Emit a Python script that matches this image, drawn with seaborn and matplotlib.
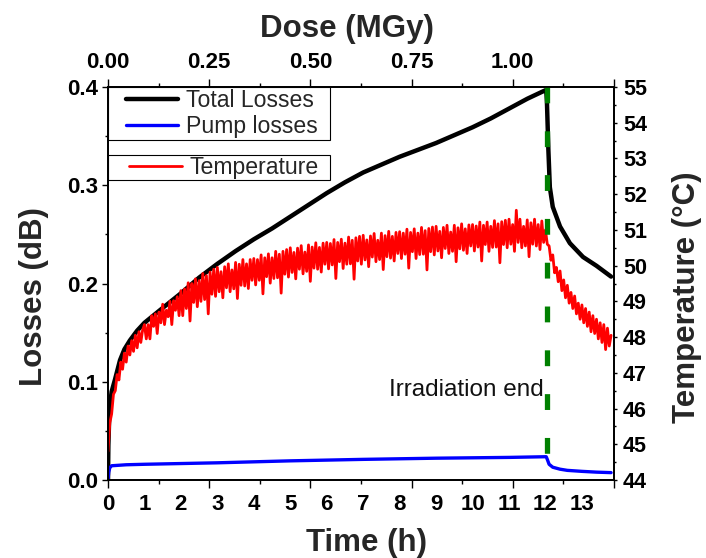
import numpy as np
import seaborn as sns
import matplotlib.pyplot as plt
from matplotlib.lines import Line2D
from matplotlib.legend_handler import HandlerLine2D

# total losses (dB)
loss_time = [0.0, 0.01, 0.03, 0.05, 0.1, 0.19, 0.33, 0.45, 0.6, 0.8, 1.0, 1.43, 2.0,
             2.5, 3.0, 3.5, 4.0, 4.5, 5.0, 5.5, 6.0, 6.5, 7.0, 7.5, 8.0, 8.5, 9.0,
             9.5, 10.0, 10.5, 11.0, 11.5, 11.9, 12.02, 12.04, 12.08, 12.12, 12.2,
             12.4, 12.67, 13.03, 13.4, 13.8]
loss_total = [0.0, 0.035, 0.06, 0.074, 0.09, 0.102, 0.122, 0.133, 0.142, 0.152, 0.16,
              0.173, 0.19, 0.206, 0.22, 0.233, 0.245, 0.256, 0.268, 0.28, 0.292,
              0.303, 0.313, 0.321, 0.329, 0.336, 0.343, 0.351, 0.359, 0.368, 0.378,
              0.388, 0.395, 0.397, 0.385, 0.336, 0.298, 0.278, 0.258, 0.241, 0.227,
              0.218, 0.207]

# pump losses (dB), blue curve
pump_time = [0.0, 0.02, 0.05, 0.1, 0.5, 1.0, 3.0, 5.0, 7.0, 9.0, 11.0, 12.02, 12.05,
             12.1, 12.2, 12.4, 12.6, 13.0, 13.4, 13.8]
pump_loss = [0.0, 0.008, 0.0125, 0.0145, 0.0155, 0.016, 0.0175, 0.0195, 0.021, 0.0222,
             0.023, 0.0237, 0.021, 0.016, 0.013, 0.011, 0.0098, 0.0088, 0.008, 0.0075]

# temperature (degC), one reading every 0.05 h
temp_step = 0.05
temp_vals = [
    44.8, 45.6, 45.85, 46.4, 46.5, 46.95, 46.8, 47.3, 47.1, 47.55,
    47.3, 47.75, 47.5, 47.9, 47.6, 48.05, 47.7, 48.15, 47.85, 48.2,
    48.35, 47.95, 48.35, 47.95, 48.6, 48.3, 48.65, 48.1, 48.7, 48.4,
    48.92, 48.35, 48.75, 48.57, 49.0, 48.35, 49.02, 48.75, 49.13, 48.6,
    49.3, 48.6, 49.35, 48.8, 49.52, 48.45, 49.5, 48.97, 49.63, 48.85,
    49.58, 49.0, 49.78, 49.05, 49.72, 48.65, 49.82, 49.2, 49.9, 49.14,
    49.95, 49.27, 49.83, 49.1, 49.97, 49.38, 50.05, 49.27, 49.88, 49.35,
    50.09, 49.08, 50.04, 49.45, 50.17, 49.43, 50.05, 49.36, 50.17, 49.59,
    50.2, 49.46, 50.17, 49.59, 50.3, 49.21, 50.22, 49.69, 50.33, 49.51,
    50.22, 49.64, 50.4, 49.66, 50.32, 49.23, 50.4, 49.76, 50.45, 49.68,
    50.5, 49.81, 50.37, 49.63, 50.49, 49.9, 50.56, 49.77, 50.38, 49.84,
    50.58, 49.56, 50.52, 49.93, 50.64, 49.9, 50.51, 49.82, 50.63, 50.04,
    50.65, 49.91, 50.62, 50.02, 50.73, 49.64, 50.65, 50.11, 50.74, 49.92,
    50.63, 50.04, 50.8, 50.05, 50.71, 49.62, 50.78, 50.13, 50.82, 50.04,
    50.85, 50.16, 50.72, 49.97, 50.83, 50.24, 50.9, 50.11, 50.71, 50.17,
    50.91, 49.89, 50.84, 50.25, 50.96, 50.21, 50.82, 50.13, 50.93, 50.34,
    50.95, 50.2, 50.91, 50.32, 51.02, 49.93, 50.93, 50.39, 51.03, 50.2,
    50.91, 50.31, 51.07, 50.32, 50.98, 49.88, 51.04, 50.39, 51.08, 50.3,
    51.1, 50.41, 50.96, 50.22, 51.07, 50.48, 51.13, 50.34, 50.94, 50.4,
    51.13, 50.11, 51.06, 50.47, 51.17, 50.43, 51.03, 50.34, 51.14, 50.55,
    51.15, 50.41, 51.11, 50.52, 51.22, 50.13, 51.13, 50.59, 51.22, 50.4,
    51.1, 50.51, 51.26, 50.52, 51.17, 50.08, 51.23, 50.59, 51.27, 50.5,
    51.3, 50.6, 51.15, 50.4, 51.55, 50.65, 51.3, 50.5, 51.1, 50.55,
    51.28, 50.25, 51.2, 50.6, 51.3, 50.55, 51.15, 50.45, 51.25, 50.65,
    51.0, 50.6, 50.55, 50.15, 50.3, 49.8, 49.95, 49.55, 49.85, 49.3,
    49.6, 49.1, 49.45, 48.95, 49.25, 48.8, 49.15, 48.65, 48.95, 48.5,
    48.9, 48.4, 48.8, 48.3, 48.7, 48.15, 48.6, 48.1, 48.5, 47.95,
    48.4, 47.85, 48.35, 47.65, 48.25, 47.75, 48.05,
]
temp_time = np.arange(len(temp_vals)) * temp_step

irr_end = 12.03
time_max = 13.88
dose_max = 1.25
time_ticks = list(range(14))
loss_ticks = [0.0, 0.1, 0.2, 0.3, 0.4]
temp_ticks = list(range(44, 56))
dose_ticks = [0.0, 0.25, 0.5, 0.75, 1.0, 1.25]
dose_labels = ['0.00', '0.25', '0.50', '0.75', '1.00', '']

sns.set_theme(style="ticks")
plt.rcParams['font.family'] = ['Liberation Sans', 'DejaVu Sans']
plt.rcParams['font.weight'] = 'bold'
plt.rcParams['axes.labelweight'] = 'bold'
plt.rcParams['axes.linewidth'] = 1.1
plt.rcParams['axes.edgecolor'] = 'black'
plt.rcParams['xtick.color'] = 'black'
plt.rcParams['ytick.color'] = 'black'

fig = plt.figure(figsize=(7.06, 5.58), dpi=100)
ax = fig.add_axes([108 / 706, 1 - 480 / 558, 506 / 706, 393 / 558])
ax2 = ax.twinx()
axd = ax.twiny()

sns.lineplot(x=loss_time, y=loss_total, ax=ax, color='black', linewidth=3.2,
             label='Total Losses', estimator=None, sort=False)
sns.lineplot(x=pump_time, y=pump_loss, ax=ax, color='#0000ff', linewidth=2.4,
             label='Pump losses', estimator=None, sort=False)
sns.lineplot(x=temp_time, y=temp_vals, ax=ax2, color='#ff0000', linewidth=2.0,
             label='Temperature', estimator=None, sort=False)
# end of irradiation marker, drawn from the top so the dashes start there
ax2.plot([irr_end, irr_end], [55, 44], color='#008000', linewidth=3.8,
         dashes=(3.0, 5.3), zorder=5)
ax.text(irr_end - 0.08, 0.092, 'Irradiation end', ha='right', va='center',
        fontsize=17.5, fontweight='normal', color='#111111')

ax.set_xlim(0, time_max)
ax.set_ylim(0, 0.4)
ax2.set_ylim(44, 55)
axd.set_xlim(0, dose_max)

ax.set_xticks(time_ticks)
ax.set_xticklabels([str(t) for t in time_ticks])
ax.tick_params(axis='x', length=0, pad=10, labelsize=16)
ax.set_yticks(loss_ticks)
ax.set_yticklabels(['%.1f' % v for v in loss_ticks])
ax.set_yticks(np.arange(0.05, 0.4, 0.1), minor=True)
ax.tick_params(axis='y', which='major', direction='out', length=4.3, width=1,
               pad=3, labelsize=16)
ax.tick_params(axis='y', which='minor', direction='out', length=2.2, width=1)

ax2.set_yticks(temp_ticks)
ax2.set_yticks(np.arange(44.5, 55, 1.0), minor=True)
ax2.tick_params(axis='y', which='major', direction='out', length=2.5, width=1,
                pad=4, labelsize=15.5)
ax2.tick_params(axis='y', which='minor', direction='out', length=1.5, width=1)

axd.set_xticks(dose_ticks)
axd.set_xticklabels(dose_labels)
axd.set_xticks(np.arange(0.125, 1.25, 0.25), minor=True)
axd.tick_params(axis='x', which='both', top=True, bottom=True, labelbottom=False,
                direction='out', width=1)
axd.tick_params(axis='x', which='major', length=5.8, pad=4.5, labelsize=16)
axd.tick_params(axis='x', which='minor', length=3.2)

ax.set_xlabel('Time (h)', fontsize=22.5)
ax.set_ylabel('Losses (dB)', fontsize=22.5)
ax2.set_ylabel('Temperature (\u00b0C)', fontsize=22.5)
axd.set_xlabel('Dose (MGy)', fontsize=22.5)
ax.xaxis.set_label_coords(0.511, -0.121)
ax.yaxis.set_label_coords(-0.117, 0.468)
ax2.yaxis.set_label_coords(1.115, 0.466)
axd.xaxis.set_label_coords(0.472, 1.127)

for a in (ax, ax2, axd):
    for s in a.spines.values():
        s.set_color('black')
        s.set_linewidth(1.1)

fs = 16.6
leg_font = {'size': fs, 'weight': 'normal'}
h1, l1 = ax.get_legend_handles_labels()
leg1 = ax.legend(h1, l1, loc='upper left', bbox_to_anchor=(0, 0.855, 0.439, 0.145),
                 mode='expand', borderaxespad=0, borderpad=0.08, labelspacing=0.15,
                 handlelength=2.95, handletextpad=0.35, prop=leg_font,
                 fancybox=False, framealpha=1, edgecolor='black',
                 handler_map={Line2D: HandlerLine2D(xpad=0.72)})
leg1.get_frame().set_linewidth(0.8)
h2, l2 = ax2.get_legend_handles_labels()
leg2 = ax2.legend(h2, l2, loc='upper left', bbox_to_anchor=(0, 0.756, 0.439, 0.071),
                  mode='expand', borderaxespad=0, borderpad=0.05,
                  handlelength=3.15, handletextpad=0.35, prop=leg_font,
                  fancybox=False, framealpha=1, edgecolor='black',
                  handler_map={Line2D: HandlerLine2D(xpad=0.88)})
leg2.get_frame().set_linewidth(0.8)

fig.savefig('out.png', dpi=100)
